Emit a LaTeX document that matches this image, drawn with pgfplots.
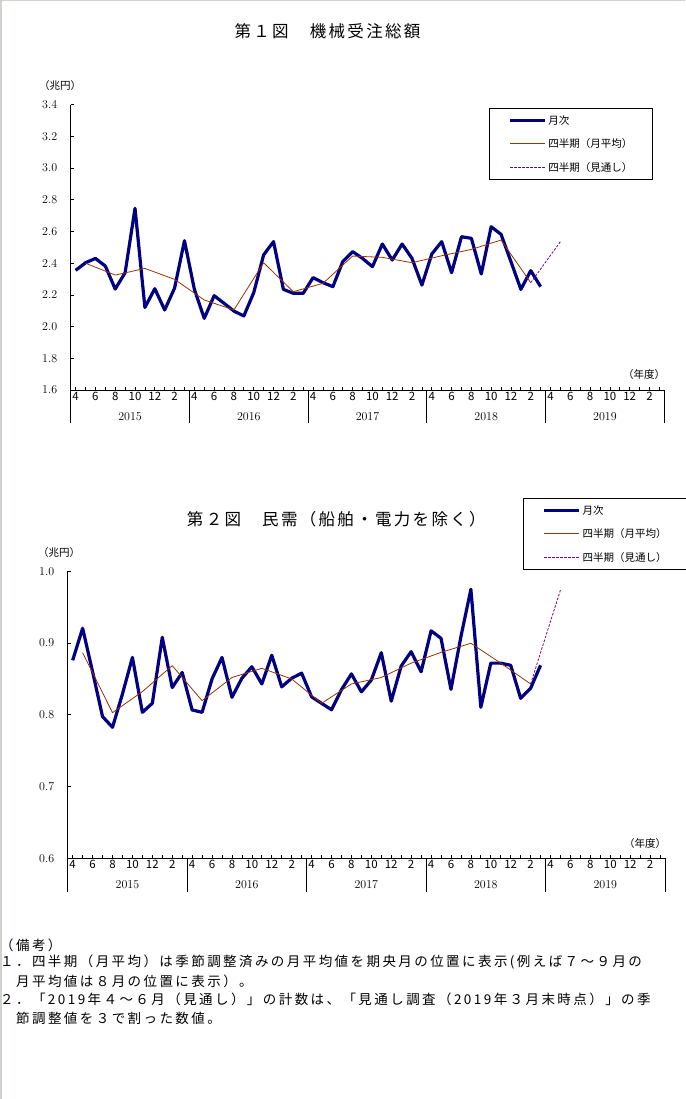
\documentclass[border=0pt]{standalone}
\usepackage{fontspec}
\setmainfont{Noto Sans CJK JP}
\newfontfamily\jptitle[LetterSpace=14]{Noto Sans CJK JP}
\newfontfamily\jpnote[LetterSpace=18]{Noto Sans CJK JP}
\usepackage{pgfplots}
\pgfplotsset{compat=1.18}
\definecolor{navyline}{RGB}{0,0,128}
\definecolor{brownline}{RGB}{153,51,0}
\definecolor{purpline}{RGB}{128,0,128}
\definecolor{edgegray}{RGB}{204,212,204}

\pgfplotsset{
  mchart/.style={
    scale only axis,
    axis lines=left,
    axis line style={-, line width=0.8pt},
    tick align=inside,
    major tick length=3pt,
    tick style={black, line width=0.7pt},
    xmin=-0.5, xmax=59.5,
    xtick={0,...,59},
    xticklabels={4,,6,,8,,10,,12,,2,,4,,6,,8,,10,,12,,2,,4,,6,,8,,10,,12,,2,,4,,6,,8,,10,,12,,2,,4,,6,,8,,10,,12,,2,},
    xticklabel style={font=\fontsize{11.5}{11.5}\selectfont, inner sep=2pt},
    yticklabel style={font=\fontsize{11.5}{11.5}\selectfont, xshift=-10pt,
      /pgf/number format/.cd, fixed, fixed zerofill, precision=1},
    clip=false,
    legend cell align=left,
    legend image code/.code={\draw[#1] (0pt,0pt) -- (35pt,0pt);},
    legend style={anchor=north west, draw, line width=0.8pt, fill=white,
      font=\fontsize{10.5}{12}\selectfont, inner xsep=19pt, inner ysep=5pt,
      row sep=10pt, nodes={inner sep=1.5pt}},
  },
  monthly/.style={draw=navyline, line width=3.2pt, line join=round},
  quarterly/.style={draw=brownline, line width=0.8pt, line join=round},
  outlook/.style={draw=purpline, line width=0.8pt, dash pattern=on 2.5pt off 1.5pt},
}

\begin{document}
\begin{tikzpicture}
\useasboundingbox (0,0) rectangle (685pt,-1099pt);
\fill[edgegray] (0,0) rectangle (1.5pt,-1099pt);
\fill[edgegray] (0,0) rectangle (685pt,-1.5pt);

% ---------- Chart 1 ----------
\node[font=\jptitle\fontsize{16.5}{18}\selectfont] at (327.5pt,-31.5pt) {第１図　機械受注総額};
\node[font=\fontsize{10.5}{11}\selectfont] at (60pt,-86pt) {（兆円）};
\node[font=\fontsize{10.5}{11}\selectfont] at (644pt,-374.5pt) {（年度）};

\begin{axis}[mchart,
  at={(70.7pt,-390pt)}, anchor=south west,
  width=593.6pt, height=285.3pt,
  ymin=1.6, ymax=3.4, ytick={1.6,1.8,...,3.4},
  legend style={at={(0.705,0.987)}},
]
\addplot[monthly] coordinates {
(0,2.355) (1,2.403) (2,2.430) (3,2.382) (4,2.237) (5,2.340) (6,2.746) (7,2.121) (8,2.239) (9,2.105) (10,2.243) (11,2.542)
(12,2.235) (13,2.052) (14,2.195) (15,2.147) (16,2.098) (17,2.067) (18,2.214) (19,2.452) (20,2.536) (21,2.235) (22,2.210) (23,2.210)
(24,2.309) (25,2.277) (26,2.252) (27,2.410) (28,2.473) (29,2.430) (30,2.378) (31,2.521) (32,2.420) (33,2.521) (34,2.430) (35,2.262)
(36,2.458) (37,2.536) (38,2.340) (39,2.567) (40,2.557) (41,2.332) (42,2.630) (43,2.582) (44,2.410) (45,2.235) (46,2.353) (47,2.252)
};
\addlegendentry{月次}
\addplot[quarterly] coordinates {
(1,2.400) (4,2.325) (7,2.367) (10,2.298) (13,2.168) (16,2.105) (19,2.403) (22,2.220)
(25,2.273) (28,2.445) (31,2.437) (34,2.403) (37,2.447) (40,2.487) (43,2.546) (46,2.277)
};
\addlegendentry{四半期（月平均）}
\addplot[outlook] coordinates {(46,2.277) (49,2.536)};
\addlegendentry{四半期（見通し）}
\pgfplotsinvokeforeach{-0.5,11.5,23.5,35.5,47.5,59.5}{
  \draw[line width=0.8pt] (axis cs:#1,1.6) -- ++(0pt,-33pt);
}
\node[font=\fontsize{11.5}{11.5}\selectfont] at (axis cs:5.5,1.6) [yshift=-26.7pt] {$2015$};
\node[font=\fontsize{11.5}{11.5}\selectfont] at (axis cs:17.5,1.6) [yshift=-26.7pt] {$2016$};
\node[font=\fontsize{11.5}{11.5}\selectfont] at (axis cs:29.5,1.6) [yshift=-26.7pt] {$2017$};
\node[font=\fontsize{11.5}{11.5}\selectfont] at (axis cs:41.5,1.6) [yshift=-26.7pt] {$2018$};
\node[font=\fontsize{11.5}{11.5}\selectfont] at (axis cs:53.5,1.6) [yshift=-26.7pt] {$2019$};
\end{axis}

% ---------- Chart 2 ----------
\node[font=\jptitle\fontsize{16.5}{18}\selectfont] at (336.3pt,-519pt) {第２図　民需（船舶・電力を除く）};
\node[font=\fontsize{10.5}{11}\selectfont] at (59pt,-552.5pt) {（兆円）};
\node[font=\fontsize{10.5}{11}\selectfont] at (645pt,-843pt) {（年度）};

\begin{axis}[mchart,
  at={(67.7pt,-858.3pt)}, anchor=south west,
  width=597.3pt, height=287pt,
  ymin=0.6, ymax=1.0, ytick={0.6,0.7,...,1.0},
  legend style={at={(0.763,1.254)}},
]
\addplot[monthly] coordinates {
(0,0.876) (1,0.9206) (2,0.860) (3,0.7975) (4,0.7826) (5,0.829) (6,0.880) (7,0.8035) (8,0.816) (9,0.908) (10,0.838) (11,0.859)
(12,0.8067) (13,0.8035) (14,0.850) (15,0.880) (16,0.8244) (17,0.851) (18,0.867) (19,0.843) (20,0.883) (21,0.839) (22,0.851) (23,0.858)
(24,0.825) (25,0.816) (26,0.807) (27,0.835) (28,0.857) (29,0.832) (30,0.8485) (31,0.8866) (32,0.819) (33,0.868) (34,0.888) (35,0.860)
(36,0.917) (37,0.9066) (38,0.8355) (39,0.909) (40,0.975) (41,0.8105) (42,0.872) (43,0.872) (44,0.869) (45,0.823) (46,0.837) (47,0.869)
};
\addlegendentry{月次}
\addplot[quarterly] coordinates {
(1,0.8866) (4,0.803) (7,0.8323) (10,0.8685) (13,0.8197) (16,0.852) (19,0.8648) (22,0.850)
(25,0.816) (28,0.843) (31,0.852) (34,0.872) (37,0.887) (40,0.8997) (43,0.872) (46,0.843)
};
\addlegendentry{四半期（月平均）}
\addplot[outlook] coordinates {(46,0.843) (49,0.974)};
\addlegendentry{四半期（見通し）}
\pgfplotsinvokeforeach{-0.5,11.5,23.5,35.5,47.5,59.5}{
  \draw[line width=0.8pt] (axis cs:#1,0.6) -- ++(0pt,-33.4pt);
}
\node[font=\fontsize{11.5}{11.5}\selectfont] at (axis cs:5.5,0.6) [yshift=-26.7pt] {$2015$};
\node[font=\fontsize{11.5}{11.5}\selectfont] at (axis cs:17.5,0.6) [yshift=-26.7pt] {$2016$};
\node[font=\fontsize{11.5}{11.5}\selectfont] at (axis cs:29.5,0.6) [yshift=-26.7pt] {$2017$};
\node[font=\fontsize{11.5}{11.5}\selectfont] at (axis cs:41.5,0.6) [yshift=-26.7pt] {$2018$};
\node[font=\fontsize{11.5}{11.5}\selectfont] at (axis cs:53.5,0.6) [yshift=-26.7pt] {$2019$};
\end{axis}

% ---------- Notes ----------
\begin{scope}[every node/.style={anchor=west, inner sep=0pt, font=\jpnote\fontsize{13.5}{14}\selectfont}]
\node at (0pt,-945.7pt) {（備考）};
\node at (0pt,-962.3pt) {１．四半期（月平均）は季節調整済みの月平均値を期央月の位置に表示(例えば７～９月の};
\node at (16pt,-981.3pt) {月平均値は８月の位置に表示）。};
\node at (0pt,-999.7pt) {２．「2019年４～６月（見通し）」の計数は、「見通し調査（2019年３月末時点）」の季};
\node at (16pt,-1018pt) {節調整値を３で割った数値。};
\end{scope}
\end{tikzpicture}
\end{document}
